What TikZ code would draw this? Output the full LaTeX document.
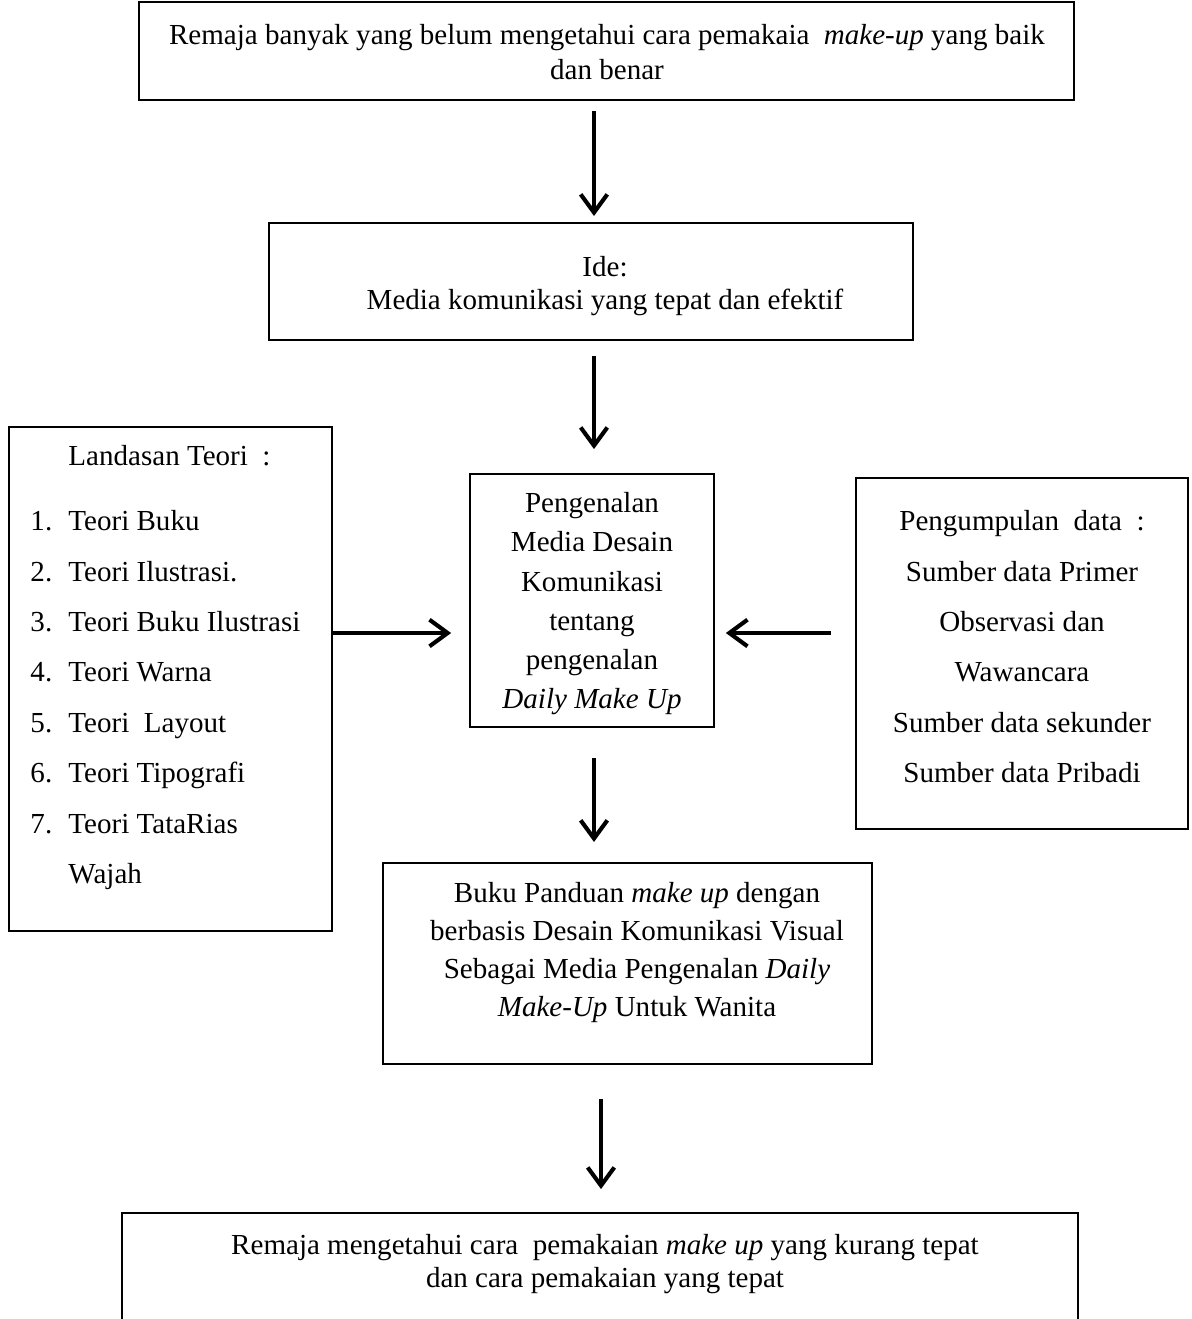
\documentclass[tikz,border=0pt]{standalone}
\usepackage{fontspec}
\setmainfont{Liberation Serif}
\usetikzlibrary{arrows.meta,fit}
\tikzset{
  boxed/.style={draw, line width=0.8pt, inner sep=0pt},
  txt/.style={font=\fontsize{12}{14}\selectfont, inner sep=0pt, anchor=mid, yshift=-1.7pt},
  ltxt/.style={txt, anchor=mid west},
  arr/.style={line width=1.7pt, -{Straight Barb[length=7.5pt,width=11pt]}},
}
\begin{document}
\begin{tikzpicture}[x=0.4132pt,y=-0.4132pt]
\useasboundingbox (0,0) rectangle (1192,1319);
\fill[white] (0,0) rectangle (1192,1319);

% top box
\node[boxed, fit={(139,2) (1074,100)}] (b1) {};
\node[txt] (b1a) at (607,35) {Remaja banyak yang belum mengetahui cara pemakaia\ \ \textit{make-up} yang baik};
\node[txt] (b1b) at (607,70) {dan benar};

% idea box
\node[boxed, fit={(269,223) (913,340)}] (b2) {};
\node[txt] (b2a) at (605,267) {Ide:};
\node[txt] (b2b) at (605,300) {Media komunikasi yang tepat dan efektif};

% center box
\node[boxed, fit={(470,474) (714,727)}] (b3) {};
\node[txt] (b3a) at (592,503) {Pengenalan};
\node[txt] (b3b) at (592,542) {Media Desain};
\node[txt] (b3c) at (592,582) {Komunikasi};
\node[txt] (b3d) at (592,621) {tentang};
\node[txt] (b3e) at (592,660) {pengenalan};
\node[txt] (b3f) at (592,699) {\textit{Daily Make Up}};

% left box
\node[boxed, fit={(9,427) (332,931)}] (lb) {};
\node[ltxt] (lbh) at (68,456) {Landasan Teori\ \ :};
\foreach \n/\t [count=\i] in {1/Teori Buku, 2/Teori Ilustrasi., 3/Teori Buku Ilustrasi, 4/Teori Warna, 5/Teori\ \ Layout, 6/Teori Tipografi, 7/Teori TataRias}{
  \node[ltxt] (num\i) at (30,{521+(\i-1)*50.4}) {\n.};
  \node[ltxt] (itm\i) at (68,{521+(\i-1)*50.4}) {\t};
}
\node[ltxt] (itm8) at (68,874) {Wajah};

% right box
\node[boxed, fit={(856,478) (1188,829)}] (rb) {};
\foreach \t [count=\i] in {Pengumpulan\ \ data\ \ :, Sumber data Primer, Observasi dan, Wawancara, Sumber data sekunder, Sumber data Pribadi}{
  \node[txt] (rbl\i) at (1022,{521+(\i-1)*50.4}) {\t};
}

% book box
\node[boxed, fit={(383,863) (872,1064)}] (b4) {};
\node[txt] (b4a) at (637,893) {Buku Panduan \textit{make up} dengan};
\node[txt] (b4b) at (637,931) {berbasis Desain Komunikasi Visual};
\node[txt] (b4c) at (637,969) {Sebagai Media Pengenalan \textit{Daily}};
\node[txt] (b4d) at (637,1007) {\textit{Make-Up} Untuk Wanita};

% bottom box
\node[boxed, fit={(122,1213) (1078,1340)}] (b5) {};
\node[txt] (b5a) at (605,1245) {Remaja mengetahui cara\ \ pemakaian \textit{make up} yang kurang tepat};
\node[txt] (b5b) at (605,1278) {dan cara pemakaian yang tepat};

% arrows
\draw[arr, shorten <=4.1pt, shorten >=2.5pt] (594,0 |- b1.south) -- (594,0 |- b2.north);
\draw[arr, shorten <=6.2pt, shorten >=9.9pt] (594,0 |- b2.south) -- (594,0 |- b3.north);
\draw[arr, shorten <=12.4pt, shorten >=8.3pt] (594,0 |- b3.south) -- (594,0 |- b4.north);
\draw[arr, shorten <=14pt, shorten >=9.5pt] (601,0 |- b4.south) -- (601,0 |- b5.north);
\draw[arr, shorten >=7.4pt] (lb.east |- 0,633) -- (b3.west |- 0,633);
\draw[arr, shorten <=9.9pt, shorten >=4.5pt] (rb.west |- 0,633) -- (b3.east |- 0,633);
\end{tikzpicture}
\end{document}
